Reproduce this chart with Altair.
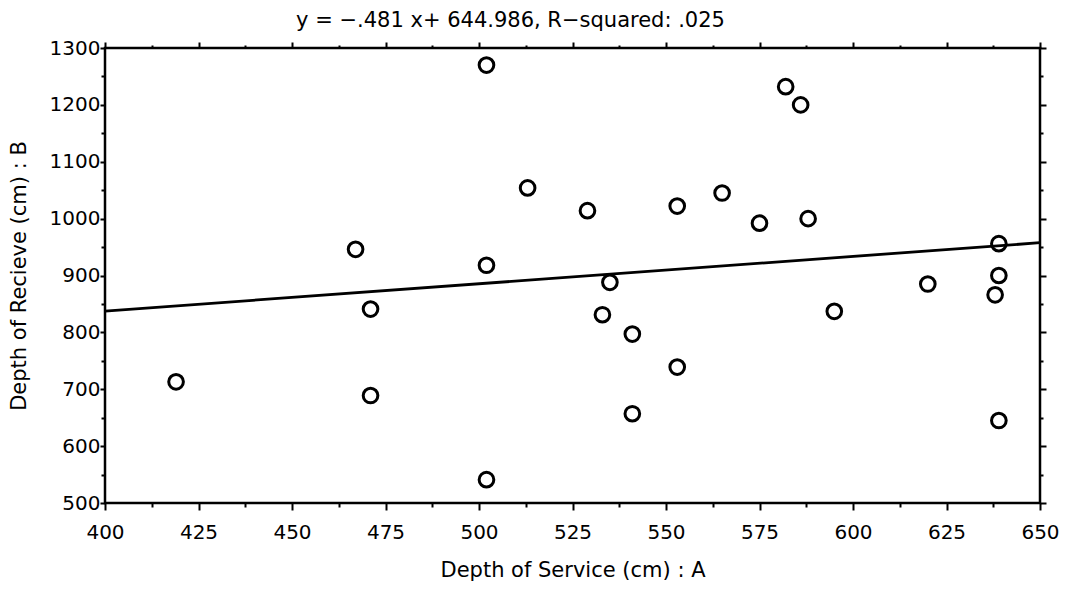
import altair as alt
import pandas as pd

# Depth of Service (cm) : A
service = [419, 467, 471, 471, 502, 502, 502, 513, 529, 533, 535, 541, 541,
           553, 553, 565, 575, 582, 586, 588, 595, 620, 639, 639, 638, 639]
# Depth of Recieve (cm) : B
receive = [713, 946, 841, 689, 1270, 918, 541, 1054, 1014, 831, 888, 797, 657,
           1022, 739, 1045, 992, 1232, 1200, 1000, 837, 885, 956, 900, 866, 645]

fit_slope = 0.481
fit_intercept = 644.986
fit_x = [400, 650]
fit_y = [fit_intercept + fit_slope * v for v in fit_x]

title_text = "y = \u2212.481 x+ 644.986, R\u2212squared: .025"
x_title = "Depth of Service (cm) : A"
y_title = "Depth of Recieve (cm) : B"

x_tick_values = [400 + 12.5 * i for i in range(21)]
y_tick_values = [500 + 50 * i for i in range(17)]

points_df = pd.DataFrame({"A": service, "B": receive})
line_df = pd.DataFrame({"A": fit_x, "B": fit_y})

FONT = "DejaVu Sans"
major_x = "datum.value % 25 === 0"
major_y = "datum.value % 100 === 0"

xscale = alt.Scale(domain=[400, 650], nice=False, zero=False)
yscale = alt.Scale(domain=[500, 1300], nice=False, zero=False)

common = dict(domain=False, grid=False, tickColor="black", tickWidth=2,
              labelOverlap=False, labelFlush=False)

x_bottom = alt.Axis(
    values=x_tick_values, format="d",
    labelExpr=f"{major_x} ? datum.label : ''",
    tickSize={"condition": {"test": major_x, "value": 7}, "value": 4},
    labelFont=FONT, labelFontSize=20, labelColor="black", labelPadding=12,
    titleFont=FONT, titleFontSize=21, titleFontWeight="normal", titleColor="black",
    titlePadding=17, orient="bottom", **common)
y_left = alt.Axis(
    values=y_tick_values, format="d",
    labelExpr=f"{major_y} ? datum.label : ''",
    tickSize={"condition": {"test": major_y, "value": 5}, "value": 4},
    labelFont=FONT, labelFontSize=20, labelColor="black", labelPadding=0,
    titleFont=FONT, titleFontSize=21, titleFontWeight="normal", titleColor="black",
    titlePadding=20, orient="left", **common)
x_top = alt.Axis(
    values=x_tick_values, labels=False, title=None, orient="top",
    tickSize={"condition": {"test": major_x, "value": 6}, "value": 3}, **common)
y_right = alt.Axis(
    values=y_tick_values, labels=False, title=None, orient="right",
    tickSize={"condition": {"test": major_y, "value": 6}, "value": 3}, **common)

points = alt.Chart(points_df).mark_point(
    shape="circle", filled=False, size=215, strokeWidth=3,
    color="black", opacity=1
).encode(
    x=alt.X("A:Q", scale=xscale, axis=x_bottom, title=x_title),
    y=alt.Y("B:Q", scale=yscale, axis=y_left, title=y_title),
)

fit = alt.Chart(line_df).mark_line(color="black", strokeWidth=2.8).encode(
    x=alt.X("A:Q", scale=xscale, axis=x_top),
    y=alt.Y("B:Q", scale=yscale, axis=y_right),
)

chart = alt.layer(points, fit).resolve_axis(
    x="independent", y="independent"
).properties(
    width=935, height=455,
    autosize="none",
    padding={"left": 105, "top": 48, "right": 28, "bottom": 88},
    background="white",
    title=alt.Title(title_text, font=FONT, fontSize=21, fontWeight="normal",
                    color="black", dx=-62, offset=7),
).configure_view(stroke="black", strokeWidth=2.5)

chart.save("out.html", embed_options={"renderer": "svg", "actions": False})
